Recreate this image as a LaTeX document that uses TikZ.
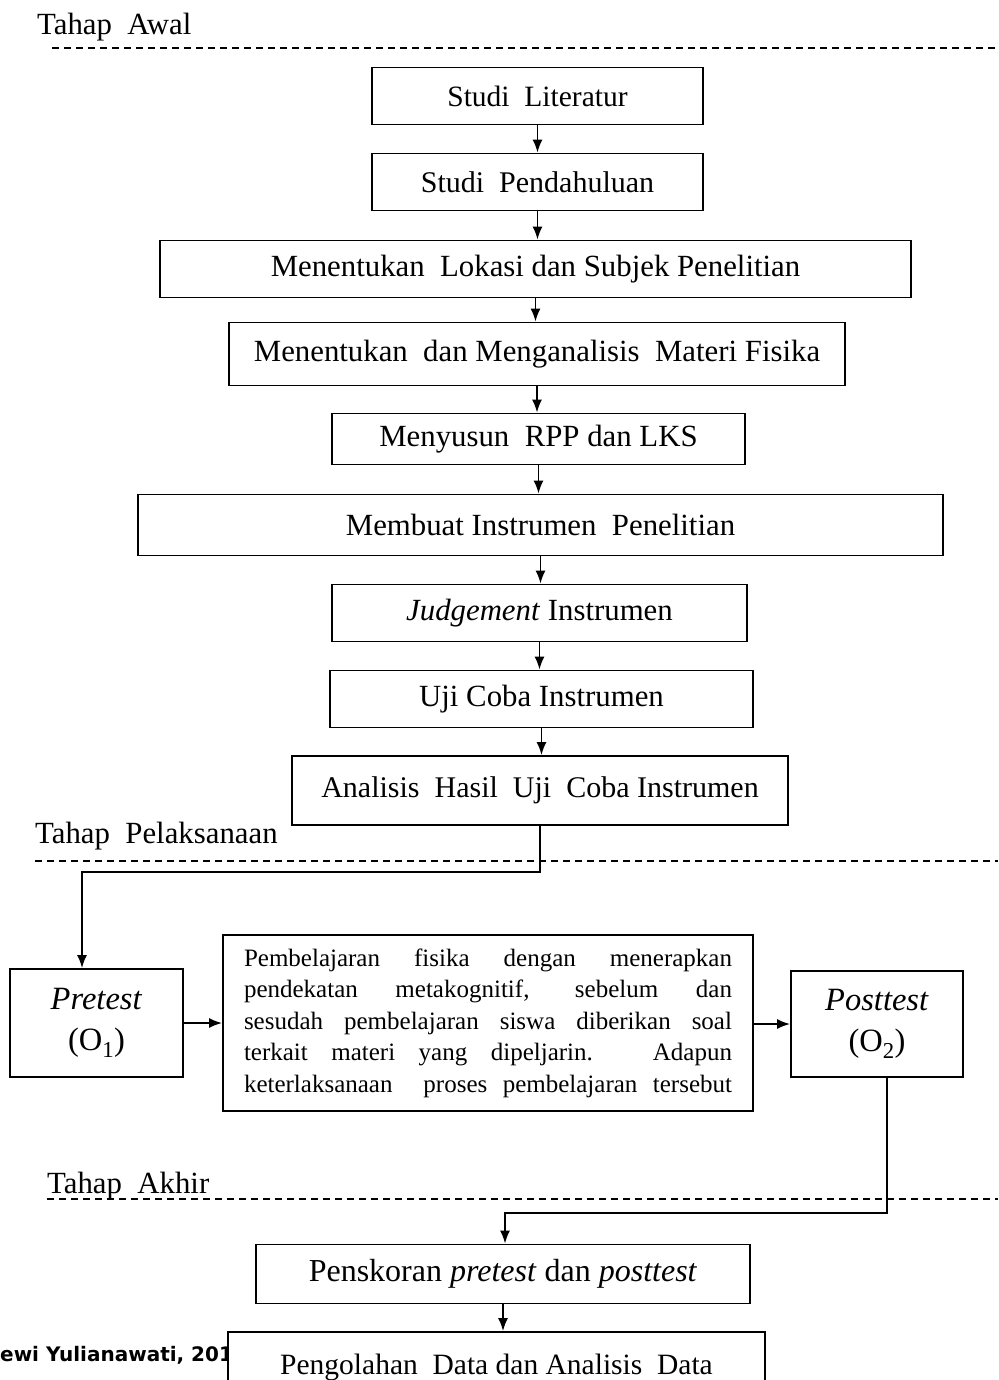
\documentclass[tikz,border=0pt]{standalone}
\usepackage{fontspec}
\setmainfont{Liberation Serif}
\newfontfamily\footfont{DejaVu Sans}
\usetikzlibrary{arrows.meta}
\begin{document}
\begin{tikzpicture}[x=1pt,y=-1pt,
  box/.style={draw, line width=1.8pt, inner sep=0pt, fill=white, align=center,
    font=\fontsize{30.8}{36}\selectfont},
  fs/.style={font=\fontsize{#1}{36}\selectfont},
  arr/.style={-{Latex[length=13pt,width=10pt]}, line width=1.8pt},
  phase/.style={anchor=base west, inner sep=0pt, font=\fontsize{30.8}{36}\selectfont},
  sepline/.style={dash pattern=on 7pt off 5pt, line width=1.3pt}]
\useasboundingbox (0,0) rectangle (998,1380);

% phase labels and separators
\node[phase] (pa) at (37,35) {Tahap\ \ Awal};
\draw[sepline] (52,48) -- (998,48);
\node[phase] (pb) at (35,843) {Tahap\ \ Pelaksanaan};
\draw[sepline] (35,861) -- (998,861);
\node[phase] (pc) at (47,1193) {Tahap\ \ Akhir};
\draw[sepline] (47,1199) -- (998,1199);

% footer (cut off by the last box)
\node[anchor=base west, inner sep=0pt, font=\footfont\bfseries\fontsize{20}{22}\selectfont] (foot) at (0,1361) {ewi Yulianawati, 201};

% boxes
\node[box, fs=29.5, minimum width=331, minimum height=57] (n1) at (537.5,96) {Studi\ \ Literatur};
\node[box, fs=30, minimum width=331, minimum height=57] (n2) at (537.5,182) {Studi\ \ Pendahuluan};
\node[box, minimum width=751, minimum height=57] (n3) at (535.5,269) {Menentukan\ \ Lokasi dan Subjek Penelitian};
\node[box, minimum width=616, minimum height=63] (n4) at (537,354) {Menentukan\ \ dan Menganalisis\ \ Materi Fisika};
\node[box, minimum width=413, minimum height=51] (n5) at (538.5,439) {Menyusun\ \ RPP dan LKS};
\node[box, minimum width=805, minimum height=61] (n6) at (540.5,525) {Membuat Instrumen\ \ Penelitian};
\node[box, minimum width=415, minimum height=57] (n7) at (539.5,613) {\textit{Judgement} Instrumen};
\node[box, minimum width=423, minimum height=57] (n8) at (541.5,699) {Uji Coba Instrumen};
\node[box, fs=30, minimum width=496, minimum height=69] (n9) at (540,790.5) {Analisis\ \ Hasil\ \ Uji\ \ Coba Instrumen};

\node[box, minimum width=173, minimum height=108, font=\fontsize{32.5}{41}\selectfont] (pre) at (96.5,1023) {\textit{Pretest}\\(O\textsubscript{1})};
\node[box, minimum width=530, minimum height=176, font=\fontsize{25}{31.5}\selectfont, align=left] (mid) at (488,1023) {%
\makebox[488pt][s]{Pembelajaran fisika dengan menerapkan}\\
\makebox[488pt][s]{pendekatan metakognitif, sebelum dan}\\
\makebox[488pt][s]{sesudah pembelajaran siswa diberikan soal}\\
\makebox[488pt][s]{terkait materi yang dipeljarin. Adapun}\\
\makebox[488pt][s]{keterlaksanaan\ \ proses pembelajaran tersebut}};
\node[box, minimum width=172, minimum height=106, font=\fontsize{32.5}{41}\selectfont] (post) at (877,1024) {\textit{Posttest}\\(O\textsubscript{2})};

\node[box, fs=32, minimum width=494, minimum height=59] (n10) at (503,1274) {Penskoran \textit{pretest} dan \textit{posttest}};
\node[box, fs=29.5, minimum width=537, minimum height=70] (n11) at (496.5,1367) {Pengolahan\ \ Data dan Analisis\ \ Data};

% connectors
\foreach \a/\b in {n1/n2,n2/n3,n3/n4,n4/n5,n5/n6,n6/n7,n7/n8,n8/n9,n10/n11}
  \draw[arr] (\a.south) -- (\a.south |- \b.north);
\coordinate (c1) at (82,872);
\draw[arr] (n9.south) |- (c1) -- (c1 |- pre.north);
\draw[arr] (pre.east) -- (pre.east -| mid.west);
\draw[arr] (mid.east |- post.west) -- (post.west);
\coordinate (c2) at (887,1077);
\coordinate (c3) at (505,1213);
\draw[arr] (c2) |- (c3) -- (c3 |- n10.north);
\end{tikzpicture}
\end{document}
